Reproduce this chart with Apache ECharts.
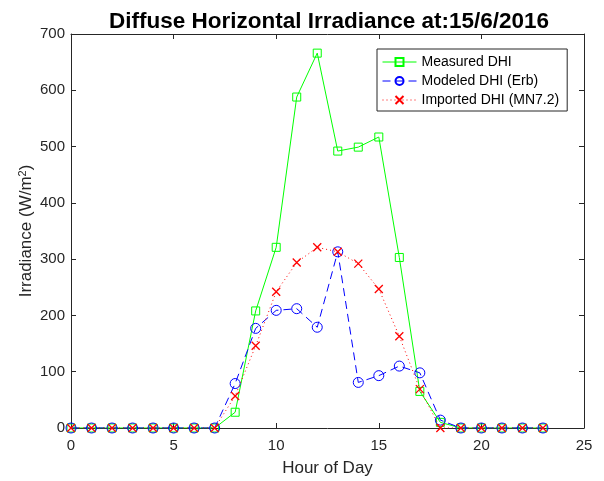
<!DOCTYPE html>
<html>
<head>
<meta charset="utf-8">
<script src="https://cdn.jsdelivr.net/npm/echarts@6/dist/echarts.min.js"></script>
<style>html,body{margin:0;padding:0;background:#fff;overflow:hidden}#c{width:604px;height:481px}</style>
</head>
<body>
<div id="c"></div>
<script>
const hours = [0,1,2,3,4,5,6,7,8,9,10,11,12,13,14,15,16,17,18,19,20,21,22,23];
const measuredDHI = [0,0,0,0,0,0,0,0,28,208,321,588,666,492,499,517,303,65,10,0,0,0,0,0];
const modeledDHI  = [0,0,0,0,0,0,0,0,79,177,209,212,179,313,81,93,110,98,14,0,0,0,0,0];
const importedDHI = [0,0,0,0,0,0,0,0,57,146,242,294,321,313,292,247,163,69,0,0,0,0,0,0];
const xTicks = [0,5,10,15,20,25];
const yTicks = [0,100,200,300,400,500,600,700];
const titleText = 'Diffuse Horizontal Irradiance at:15/6/2016';
const xName = 'Hour of Day';
const yName = 'Irradiance (W/m{sup|2})';
const seriesNames = ['Measured DHI','Modeled DHI (Erb)','Imported DHI (MN7.2)'];

const pair = arr => hours.map((h,i)=>[h, arr[i]]);
const axisColor = '#262626';
const font = 'Liberation Sans, Arial, Helvetica, sans-serif';

function mkX(pos, labels){
  return {type:'value', position:pos, min:xTicks[0], max:xTicks[xTicks.length-1], interval:5,
    axisLine:{show:true, onZero:false, lineStyle:{color:axisColor,width:1}},
    axisTick:{show:true, inside:true, length:5, lineStyle:{color:axisColor}},
    axisLabel:{show:labels, color:axisColor, fontSize:15, fontFamily:font, margin:10},
    splitLine:{show:false},
    name: labels ? xName : '', nameLocation:'middle', nameGap:32,
    nameTextStyle:{color:axisColor, fontSize:17, fontFamily:font}};
}
function mkY(pos, labels){
  return {type:'value', position:pos, min:yTicks[0], max:yTicks[yTicks.length-1], interval:100,
    axisLine:{show:true, onZero:false, lineStyle:{color:axisColor,width:1}},
    axisTick:{show:true, inside:true, length:5, lineStyle:{color:axisColor}},
    axisLabel:{show:labels, color:axisColor, fontSize:15, fontFamily:font, margin:6},
    splitLine:{show:false},
    name: labels ? yName : '', nameLocation:'middle', nameGap:35, nameMoveOverlap:false,
    nameTextStyle:{color:axisColor, fontSize:17, fontFamily:font,
      rich:{sup:{fontSize:11, verticalAlign:'top', padding:[0,0,8,0], color:axisColor, fontFamily:font}}}};
}

const chart = echarts.init(document.getElementById('c'), null, {renderer:'canvas'});
chart.setOption({
  animation:false,
  backgroundColor:'#fff',
  title:{text:titleText, left:324, textAlign:'center', top:5,
    textStyle:{fontSize:22.5, fontWeight:'bold', color:'#000', fontFamily:font}},
  grid:{left:71, right:20, top:34, bottom:53, containLabel:false, outerBoundsMode:'none'},
  xAxis:[mkX('bottom',true), mkX('top',false)],
  yAxis:[mkY('left',true), mkY('right',false)],
  legend:{left:377, top:49, orient:'vertical', itemWidth:34, itemHeight:10, itemGap:5,
    padding:[6,8,4,5], borderColor:axisColor, borderWidth:1, backgroundColor:'#fff',
    lineStyle:{width:1},
    textStyle:{fontSize:14, lineHeight:14, color:'#000', fontFamily:font},
    data:seriesNames},
  series:[
    {name:seriesNames[0], type:'line', data:pair(measuredDHI), z:2,
      symbol:'rect', symbolSize:8,
      itemStyle:{color:'rgba(0,0,0,0)', borderColor:'#00ff00', borderWidth:1},
      lineStyle:{color:'#00ff00', width:1, type:'solid'},
      emphasis:{disabled:true}},
    {name:seriesNames[1], type:'line', data:pair(modeledDHI), z:3,
      symbol:'circle', symbolSize:10,
      itemStyle:{color:'rgba(0,0,0,0)', borderColor:'#0000ff', borderWidth:1},
      lineStyle:{color:'#0000ff', width:1, type:[8,5]},
      emphasis:{disabled:true}},
    {name:seriesNames[2], type:'line', data:pair(importedDHI), z:4,
      symbol:'path://M0,0L10,10M10,0L0,10', symbolSize:8, symbolKeepAspect:true,
      itemStyle:{color:'rgba(0,0,0,0)', borderColor:'#ff0000', borderWidth:1.3},
      lineStyle:{color:'#ff0000', width:1, type:[1,3]},
      emphasis:{disabled:true}}
  ]
});
</script>
</body>
</html>
